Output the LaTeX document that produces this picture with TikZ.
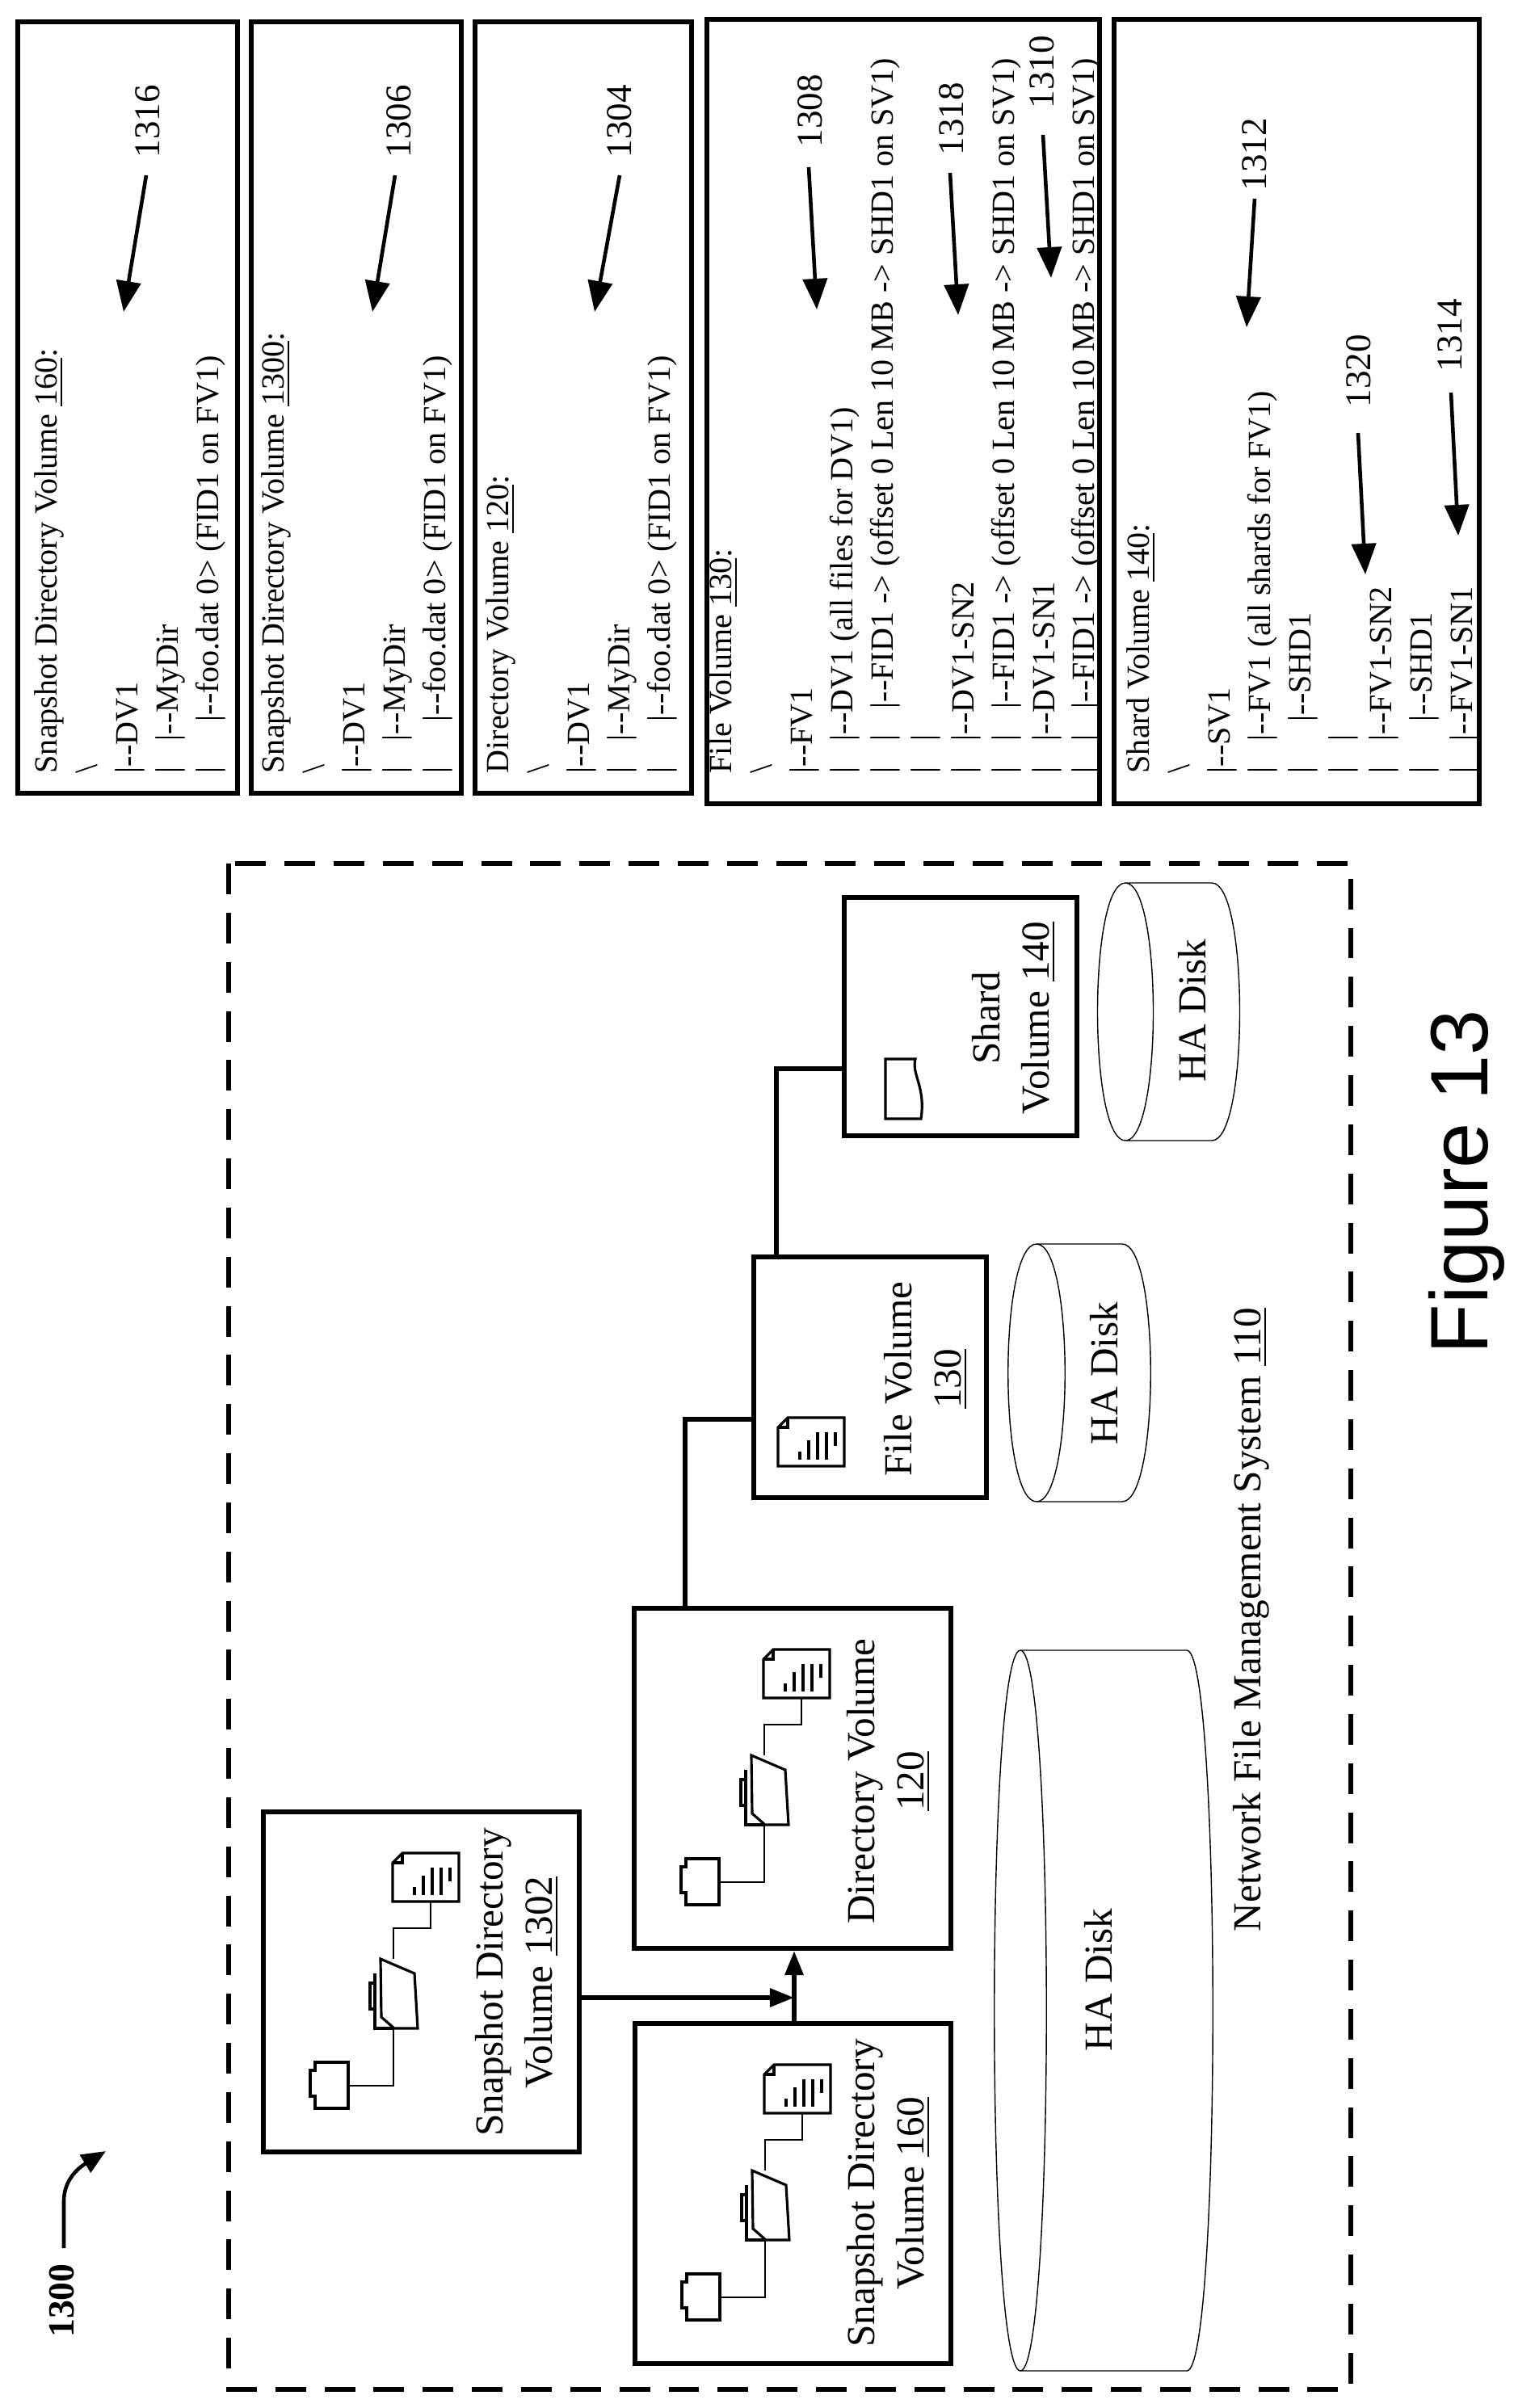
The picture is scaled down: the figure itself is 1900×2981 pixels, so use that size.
\documentclass[tikz,border=0pt]{standalone}
\usepackage{fontspec}
\setmainfont{Liberation Serif}
\newfontfamily\sansf{Liberation Sans}
\usetikzlibrary{arrows.meta,fit}
\newcommand\B{\makebox[1em][l]{|}}
\newcommand\dd{|-{}-}
\newcommand\docIcon[1]{\begin{scope}[shift={#1}]
\draw[icon] (12,0)--(82,0)--(82,60)--(0,60)--(0,12)--cycle;
\draw[icon] (0,12)--(12,12)--(12,0);
\draw[icon] (27,52)--(27,42) (38,52)--(38,28) (49,52)--(49,18) (60,52)--(60,18) (71,35)--(71,18);
\end{scope}}
\newcommand\smallFolder[1]{\begin{scope}[shift={#1}]
\draw[icon] (6,0)--(47,0)--(47,57)--(6,57)--(6,42)--(0,42)--(0,10)--(6,10)--cycle;
\end{scope}}
\newcommand\openFolder[1]{\begin{scope}[shift={#1}]
\draw[icon] (6,18)--(6,86)--(30,86);
\draw[icon] (6,30)--(0,30)--(0,62)--(6,62);
\draw[icon] (13,0)--(55,18)--(59,86)--(30,86)--(14,72)--cycle;
\end{scope}}
\newcommand\dirIcons[1]{\begin{scope}[shift={#1}]
\smallFolder{(58,310)}
\openFolder{(132,182)}
\docIcon{(160,51)}
\draw[thin] (105,339)--(161,339)--(161,268);
\draw[thin] (161,182)--(161,144)--(207,144)--(207,111);
\end{scope}}
\begin{document}
\begin{tikzpicture}[x=0.01cm,y=-0.01cm,
  box/.style={draw,line width=1.7pt,inner sep=0pt},
  icon/.style={line width=0.9pt},
  conn/.style={line width=1.7pt},
  arr/.style={line width=1.7pt,-{Triangle[length=0.3cm,width=0.22cm]}},
  lab/.style={line width=1.3pt,-{Triangle[length=0.38cm,width=0.3cm]}},
  vt/.style={rotate=90,font=\fontsize{14pt}{17.3pt}\selectfont,align=center,inner sep=0pt},
  lst/.style={rotate=90,font=\fontsize{11.4pt}{14.2pt}\selectfont,align=left,inner sep=0pt,anchor=north west},
  num/.style={rotate=90,font=\fontsize{12.8pt}{14pt}\selectfont,inner sep=0pt},
  thin/.style={line width=0.4pt}]
\useasboundingbox (0,0) rectangle (1900,2981);
% outer dashed
\draw[line width=1.5pt,dash pattern=on 10.8pt off 6.5pt] (283,1069) rectangle (1672,2958);
% boxes
\node[box,fit={(1045,1111)(1333,1406)}] (sv) {};
\node[box,fit={(933,1556)(1221,1854)}] (fv) {};
\node[box,fit={(785,1991)(1177,2412)}] (dv) {};
\node[box,fit={(326,2243)(717,2664)}] (s1302) {};
\node[box,fit={(786,2505)(1177,2926)}] (s160) {};
% labels
\node[vt] (tsv) at (1255,1260) {Shard\\Volume \underline{140}};
\node[vt] (tfv) at (1146,1707) {File Volume\\\underline{130}};
\node[vt] (tdv) at (1100,2205) {Directory Volume\\\underline{120}};
\node[vt] (t1302) at (640,2454) {Snapshot Directory\\Volume \underline{1302}};
\node[vt] (t160) at (1100,2715) {Snapshot Directory\\Volume \underline{160}};
% icons
\dirIcons{(785,1991)}
\dirIcons{(326,2243)}
\dirIcons{(786,2505)}
\docIcon{(963,1755)}
\draw[icon] (1096,1311)--(1133,1311) .. controls (1128,1330) and (1146,1345) .. (1140,1385) -- (1096,1385) -- cycle;
% connectors
\coordinate (c1) at (848,1757);
\coordinate (c2) at (961,1323);
\coordinate (j) at (983,2473);
\draw[conn] (dv.north -| c1) -- (c1) -- (c1 -| fv.west);
\draw[conn] (fv.north -| c2) -- (c2) -- (c2 -| sv.west);
\draw[arr] (s1302.east |- j) -- (j);
\draw[arr] (s160.north -| j) -- (dv.south -| j);
% disks
\draw[thin] (1263,2043) .. controls (1306,2043) and (1306,2935) .. (1263,2935) .. controls (1220,2935) and (1220,2043) .. (1263,2043) -- (1469,2043) .. controls (1512,2043) and (1512,2935) .. (1469,2935) -- (1263,2935);
\draw[thin] (1283,1540) .. controls (1330,1540) and (1330,1859) .. (1283,1859) .. controls (1236,1859) and (1236,1540) .. (1283,1540) -- (1389,1540) .. controls (1436,1540) and (1436,1859) .. (1389,1859) -- (1283,1859);
\draw[thin] (1393,1093) .. controls (1439,1093) and (1439,1412) .. (1393,1412) .. controls (1347,1412) and (1347,1093) .. (1393,1093) -- (1500,1093) .. controls (1546,1093) and (1546,1412) .. (1500,1412) -- (1393,1412);
\node[vt] (hd1) at (1360,2451) {HA Disk};
\node[vt] (hd2) at (1367,1700) {HA Disk};
\node[vt] (hd3) at (1476,1251) {HA Disk};
\node[vt] (nfms) at (1549,2005) {Network File Management System \underline{110}};
\node[rotate=90,inner sep=0pt,font=\sansf\fontsize{28.7pt}{30pt}\selectfont] (fig) at (1815,1463) {Figure 13};
% 1300
\node[rotate=90,inner sep=0pt,font=\bfseries\fontsize{13pt}{14pt}\selectfont] (n1300) at (77,2848) {1300};
\coordinate (a0) at (79,2783);
\coordinate (a1) at (131,2663);
\draw[line width=1.3pt,-{Triangle[length=0.3cm,width=0.25cm]}] (a0) -- (79,2725) .. controls (79,2700) and (95,2685) .. (a1);
% right boxes
\node[box,fit={(22,27)(294,982)}] (b1) {};
\node[box,fit={(311,27)(571,982)}] (b2) {};
\node[box,fit={(588,27)(856,982)}] (b3) {};
\node[box,fit={(875,24)(1361,995)}] (b4) {};
\node[box,fit={(1379,24)(1831,995)}] (b5) {};
\node[lst] (l1) at (42,958) {Snapshot Directory Volume \underline{160}:\\\textbackslash\\\dd DV1\\\B\dd MyDir\\\B\hspace{0.6em}\dd foo.dat 0> (FID1 on FV1)};
\node[lst] (l2) at (323,958) {Snapshot Directory Volume \underline{1300}:\\\textbackslash\\\dd DV1\\\B\dd MyDir\\\B\hspace{0.6em}\dd foo.dat 0> (FID1 on FV1)};
\node[lst] (l3) at (601,958) {Directory Volume \underline{120}:\\\textbackslash\\\dd DV1\\\B\dd MyDir\\\B\hspace{0.6em}\dd foo.dat 0> (FID1 on FV1)};
\node[lst] (l4) at (877,958) {File Volume \underline{130}:\\\textbackslash\\\dd FV1\\\B\dd DV1 (all files for DV1)\\\B\B\dd FID1 -{}> (offset 0 Len 10 MB -{}> SHD1 on SV1)\\\B\B\\\B\dd DV1-SN2\\\B\B\dd FID1 -{}> (offset 0 Len 10 MB -{}> SHD1 on SV1)\\\B\dd DV1-SN1\\\B\B\dd FID1 -{}> (offset 0 Len 10 MB -{}> SHD1 on SV1)};
\node[lst] (l5) at (1394,958) {Shard Volume \underline{140}:\\\textbackslash\\\dd SV1\\\B\dd FV1 (all shards for FV1)\\\B\hspace{0.6em}\dd SHD1\\\B\B\\\B\dd FV1-SN2\\\B\hspace{0.6em}\dd SHD1\\\B\dd FV1-SN1};
% reference numerals
\node[num] (r1316) at (183,150) {1316};
\node[num] (r1306) at (494,150) {1306};
\node[num] (r1304) at (767,150) {1304};
\node[num] (r1308) at (1003,137) {1308};
\node[num] (r1318) at (1178,147) {1318};
\node[num] (r1310) at (1290,89) {1310};
\node[num] (r1312) at (1553,191) {1312};
\node[num] (r1320) at (1682,459) {1320};
\node[num] (r1314) at (1795,415) {1314};
\coordinate (e1) at (153,386); \draw[lab] (181,217) -- (e1);
\coordinate (e2) at (461,386); \draw[lab] (489,217) -- (e2);
\coordinate (e3) at (736,386); \draw[lab] (767,217) -- (e3);
\coordinate (e4) at (1011,383); \draw[lab] (1001,207) -- (e4);
\coordinate (e5) at (1186,390); \draw[lab] (1176,214) -- (e5);
\coordinate (e6) at (1301,344); \draw[lab] (1291,167) -- (e6);
\coordinate (e7) at (1543,405); \draw[lab] (1553,246) -- (e7);
\coordinate (e8) at (1690,711); \draw[lab] (1681,536) -- (e8);
\coordinate (e9) at (1805,663); \draw[lab] (1796,486) -- (e9);
\end{tikzpicture}
\end{document}
